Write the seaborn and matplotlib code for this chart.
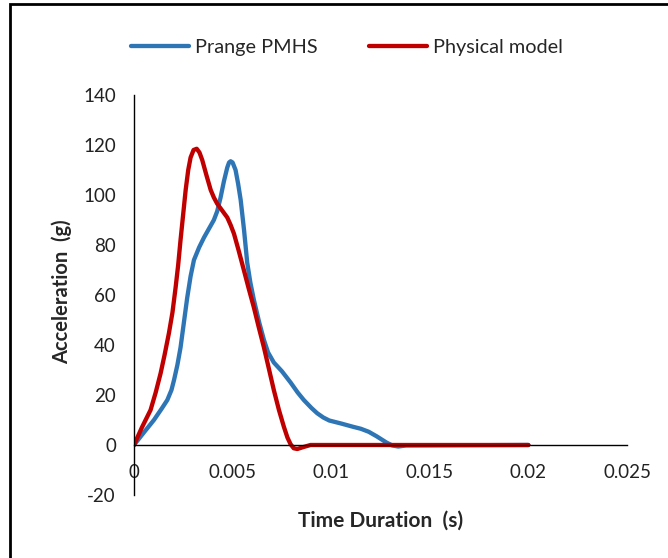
import numpy as np
import pandas as pd
import matplotlib
matplotlib.use("Agg")
import matplotlib.pyplot as plt
from matplotlib.patches import Rectangle
import seaborn as sns

# Data (time in s, acceleration in g)
pmhs_time = [0, 0.0005, 0.00101, 0.00140, 0.00169, 0.00190, 0.00203, 0.00220, 0.00236,
             0.00253, 0.0027, 0.00287, 0.00304, 0.0033, 0.00355, 0.0038, 0.00405,
             0.00422, 0.00439, 0.00456, 0.00473, 0.00482, 0.0049, 0.00500, 0.00515,
             0.00528, 0.00541, 0.00558, 0.00574, 0.00590, 0.00608, 0.00635, 0.00659,
             0.0068, 0.00709, 0.0075, 0.00794, 0.0083, 0.00861, 0.0090, 0.00929,
             0.0096, 0.0099, 0.0105, 0.0111, 0.0115, 0.0119, 0.0123, 0.0128,
             0.0131, 0.0134, 0.0138, 0.02]
pmhs_acc = [0, 5, 10, 14.5, 18, 22, 26, 32, 39,
            49, 59, 67.5, 74, 79, 83, 86.5, 90,
            93.5, 99, 105.5, 111, 113, 113.5, 113, 110,
            104.5, 98, 86, 73, 65, 58, 49, 42,
            37, 33, 29.5, 25, 21, 18, 14.8, 12.7,
            11, 9.8, 8.6, 7.3, 6.5, 5.3, 3.5, 1,
            -0.2, -0.6, -0.2, 0]

model_time = [0, 0.0004, 0.00084, 0.0011, 0.00135, 0.00155, 0.00177, 0.00195, 0.00211,
              0.00224, 0.00236, 0.00249, 0.00262, 0.00275, 0.00287, 0.00302, 0.00318,
              0.00332, 0.00346, 0.00367, 0.00389, 0.00405, 0.00422, 0.00447, 0.00473,
              0.0049, 0.00507, 0.0053, 0.00557, 0.00582, 0.00608, 0.00633, 0.00659,
              0.00684, 0.00709, 0.00735, 0.0076, 0.00778, 0.00794, 0.0081, 0.00828,
              0.0086, 0.00895, 0.02]
model_acc = [0, 7, 14, 21, 28.7, 36, 44.7, 53, 63,
             72, 82, 92, 102, 110, 115, 118, 118.5,
             117, 114, 108, 102, 99, 96.5, 93.8, 91,
             88, 84.5, 78, 70, 62.5, 55, 47, 39,
             30.5, 22, 14, 7.3, 3, 0.3, -1.3, -1.6,
             -0.8, 0, 0]

series_names = ["Prange PMHS", "Physical model"]
colors = {"Prange PMHS": "#2E75B6", "Physical model": "#C00000"}

df = pd.concat([
    pd.DataFrame({"time": pmhs_time, "acc": pmhs_acc, "series": series_names[0]}),
    pd.DataFrame({"time": model_time, "acc": model_acc, "series": series_names[1]}),
])

sns.set_style("white")
plt.rcParams["font.family"] = ["Lato", "DejaVu Sans"]
plt.rcParams["axes.unicode_minus"] = False

W, H = 668, 558
fig = plt.figure(figsize=(W / 100, H / 100), dpi=100)
ax = fig.add_axes([134 / W, (H - 495) / H, (627 - 134) / W, 400 / H])

sns.lineplot(data=df, x="time", y="acc", hue="series", palette=colors,
             linewidth=3.1, ax=ax, sort=False, estimator=None, legend=True)
for ln in ax.lines:
    ln.set_solid_joinstyle("round")
    ln.set_solid_capstyle("round")

ax.set_xlim(0, 0.025)
ax.set_ylim(-20, 140)
ax.set_xticks([0, 0.005, 0.01, 0.015, 0.02, 0.025])
ax.set_xticklabels(["0", "0.005", "0.01", "0.015", "0.02", "0.025"])
ax.set_yticks(range(-20, 141, 20))

for s in ["top", "right"]:
    ax.spines[s].set_visible(False)
ax.spines["bottom"].set_position(("data", 0))
ax.spines["bottom"].set_color("#000000")
ax.spines["left"].set_color("#000000")
ax.spines["bottom"].set_linewidth(1.0)
ax.spines["left"].set_linewidth(1.0)
ax.tick_params(length=0, labelsize=13.5, colors="#222222")
ax.tick_params(axis="x", pad=14)
ax.tick_params(axis="y", pad=13)

ax.set_xlabel("")
ax.set_ylabel("")
fig.text(381 / W, 1 - 521 / H, "Time Duration  (s)", ha="center", va="center",
         fontsize=15, fontweight="bold")
fig.text(62 / W, 1 - 292 / H, "Acceleration  (g)", ha="center", va="center",
         fontsize=14.5, fontweight="bold", rotation=90)

handles, labels = ax.get_legend_handles_labels()
ax.get_legend().remove()
fig.legend(handles, labels, loc="center", bbox_to_anchor=(347 / W, 1 - 47 / H),
           ncol=2, frameon=False, fontsize=14.3, handlelength=2.9, columnspacing=2.6,
           handletextpad=0.3)

# chart area border (top and left edges visible in the reference)
fig.patches.append(Rectangle((9.5 / W, -0.05), 1.2, 1 - 4 / H + 0.05,
                             transform=fig.transFigure, fill=False,
                             edgecolor="#000000", linewidth=2.0, clip_on=False))

fig.savefig("out.png", dpi=100)
